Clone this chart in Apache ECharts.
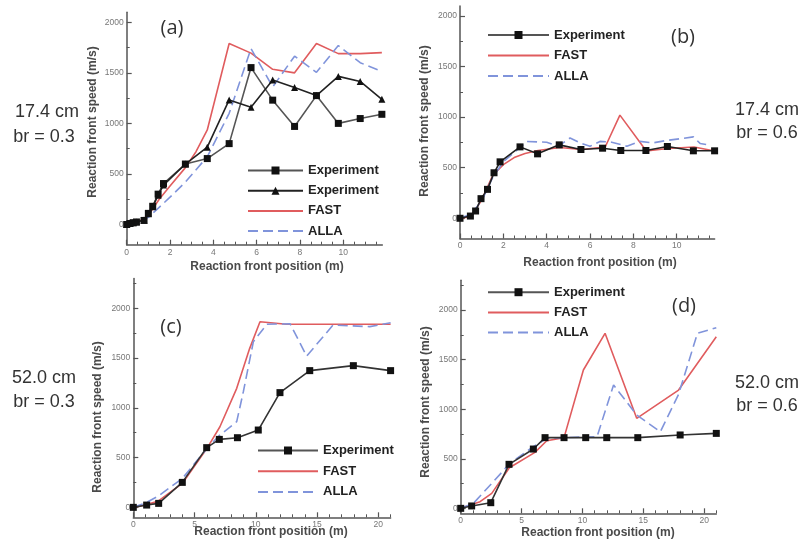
<!DOCTYPE html>
<html>
<head>
<meta charset="utf-8">
<script src="https://cdn.jsdelivr.net/npm/echarts@6/dist/echarts.min.js"></script>
<style>
  html, body { margin: 0; padding: 0; background: #fff; }
  #chart { width: 809px; height: 542px; }
</style>
</head>
<body>
<div id="chart"></div>
<script>
// Reaction front speed (m/s) against reaction front position (m)
// Each point: [position, speed]

// (a) 17.4 cm, br = 0.3
const expA_square = [[0,0],[0.15,10],[0.3,18],[0.45,25],[0.8,40],[1.0,110],[1.2,180],[1.45,300],[1.7,405],[2.71,598],[3.72,652],[4.73,800],[5.74,1552],[6.74,1230],[7.75,970],[8.76,1275],[9.77,1000],[10.78,1048],[11.78,1090]];
const expA_triangle = [[0,0],[0.15,10],[0.3,18],[0.45,25],[0.8,45],[1.0,105],[1.2,175],[1.45,290],[1.7,390],[2.71,598],[3.72,765],[4.73,1232],[5.74,1160],[6.74,1430],[7.75,1355],[8.76,1275],[9.77,1465],[10.78,1415],[11.78,1238]];
const fastA = [[0,0],[0.5,20],[1.0,90],[1.5,250],[2.0,380],[2.7,560],[3.2,720],[3.72,935],[4.73,1790],[5.74,1695],[6.74,1535],[7.75,1500],[8.76,1790],[9.77,1690],[10.78,1690],[11.78,1700]];
const allaA = [[0,0],[0.5,15],[1.0,70],[1.5,170],[2.0,270],[2.71,420],[3.72,670],[4.73,1100],[5.74,1740],[6.74,1360],[7.75,1665],[8.76,1505],[9.77,1770],[10.78,1600],[11.78,1515]];

// (b) 17.4 cm, br = 0.6
const expB = [[0,0],[0.48,22],[0.72,72],[0.97,194],[1.27,286],[1.57,450],[1.85,558],[2.77,706],[3.58,637],[4.58,726],[5.58,680],[6.58,693],[7.42,670],[8.58,670],[9.57,710],[10.77,667],[11.75,667]];
const fastB = [[0,0],[0.5,15],[1.0,180],[1.5,420],[2.0,530],[2.5,600],[3.0,640],[3.6,670],[4.6,700],[5.6,680],[6.7,705],[7.38,1020],[8.6,665],[9.6,690],[10.8,705],[11.75,665]];
const allaB = [[0,0],[0.5,40],[1.0,170],[1.5,400],[2.0,560],[2.77,700],[3.08,760],[4.0,752],[4.54,712],[5.08,794],[5.54,745],[6.0,712],[6.46,760],[7.0,752],[7.7,712],[8.3,760],[8.9,745],[9.54,770],[10.3,790],[10.77,805],[11.08,740],[11.4,728]];

// (c) 52.0 cm, br = 0.3
const expC = [[0,0],[1.09,23],[2.07,40],[4.0,251],[5.99,600],[7.02,683],[8.5,700],[10.2,777],[11.97,1153],[14.4,1374],[17.96,1424],[21,1374]];
const fastC = [[0,0],[1,25],[2,60],[4,240],[6,590],[7.07,810],[8.44,1196],[9.5,1598],[10.34,1866],[12.5,1840],[21,1840]];
const allaC = [[0,0],[1,45],[2,110],[4,290],[6,590],[7.0,720],[8.44,861],[8.98,1162],[9.8,1665],[10.9,1840],[12.8,1845],[14.15,1520],[16.3,1832],[19.3,1816],[21,1855]];

// (d) 52.0 cm, br = 0.6
const expD = [[0,0],[0.9,24],[2.47,57],[3.97,444],[5.97,598],[6.93,713],[8.49,713],[10.27,713],[12,713],[14.55,713],[18.03,740],[21,756]];
const fastD = [[0,0],[1.59,67],[2.55,151],[4,410],[6.1,565],[7.07,682],[8.49,713],[10.08,1395],[11.86,1765],[14.46,908],[17.9,1193],[21,1731]];
const allaD = [[0,0],[1.04,50],[2.55,252],[4.05,454],[5.97,622],[7.07,706],[8.4,713],[11.2,723],[12.56,1244],[14.46,941],[16.4,773],[17.9,1150],[19.45,1765],[21,1822]];

// Tick values
const speedTicks = [0, 500, 1000, 1500, 2000];
const speedMinor = [-250, 250, 750, 1250, 1750, 2250];
const shortPosTicks = [0, 2, 4, 6, 8, 10];
const shortPosMinor = [0.5,1,1.5,2.5,3,3.5,4.5,5,5.5,6.5,7,7.5,8.5,9,9.5,10.5,11,11.5];
const longPosTicks = [0, 5, 10, 15, 20];
const longPosMinor = [1,2,3,4,6,7,8,9,11,12,13,14,16,17,18,19,21];

const FONT = '"Liberation Sans", Arial, sans-serif';
const AXIS_COLOR = '#555';
const RED = '#e05c5e';
const BLUE = '#8094db';

// panel layout: plot boxes in pixels and axis ranges
const panels = [
  { left: 126.7, top: 12.2, width: 255.6, height: 232.5, xMax: 11.8, yMin: -200, yMax: 2100, xt: shortPosTicks, xm: shortPosMinor },
  { left: 460, top: 5.9, width: 254.6, height: 232.6, xMax: 11.75, yMin: -200, yMax: 2100, xt: shortPosTicks, xm: shortPosMinor },
  { left: 133.3, top: 278.5, width: 257.3, height: 238.8, xMax: 21, yMin: -100, yMax: 2300, xt: longPosTicks, xm: longPosMinor },
  { left: 460.7, top: 280.3, width: 255.6, height: 233, xMax: 21, yMin: -50, yMax: 2300, xt: longPosTicks, xm: longPosMinor }
];

const grid = panels.map(p => ({ left: p.left, top: p.top, width: p.width, height: p.height, containLabel: false }));

const plain = v => String(v);
const tickLabel = { fontSize: 8.5, color: '#777', margin: 3, fontFamily: FONT, formatter: plain };

const xAxis = [];
const yAxis = [];
panels.forEach((p, i) => {
  xAxis.push({
    gridIndex: i, type: 'value', min: 0, max: p.xMax, position: 'bottom', offset: 0,
    axisLine: { onZero: false, lineStyle: { color: AXIS_COLOR, width: 1.5 } },
    axisTick: { inside: true, length: 5, customValues: p.xt, lineStyle: { color: AXIS_COLOR, width: 1.2 } },
    axisLabel: Object.assign({ customValues: p.xt }, tickLabel),
    splitLine: { show: false }
  });
  yAxis.push({
    gridIndex: i, type: 'value', min: p.yMin, max: p.yMax, position: 'left', offset: 0,
    axisLine: { onZero: false, lineStyle: { color: AXIS_COLOR, width: 1.5 } },
    axisTick: { inside: true, length: 5, customValues: speedTicks, lineStyle: { color: AXIS_COLOR, width: 1.2 } },
    axisLabel: Object.assign({ customValues: speedTicks }, tickLabel),
    splitLine: { show: false }
  });
});
// minor ticks on overlaid axes sharing the same edges
panels.forEach((p, i) => {
  xAxis.push({
    gridIndex: i, type: 'value', min: 0, max: p.xMax, position: 'bottom', offset: 0,
    axisLine: { show: false, onZero: false },
    axisTick: { inside: true, length: 3, customValues: p.xm, lineStyle: { color: AXIS_COLOR, width: 1 } },
    axisLabel: { show: false },
    splitLine: { show: false }
  });
  yAxis.push({
    gridIndex: i, type: 'value', min: p.yMin, max: p.yMax, position: 'left', offset: 0,
    axisLine: { show: false, onZero: false },
    axisTick: { inside: true, length: 3, customValues: speedMinor.filter(v => v > p.yMin && v < p.yMax), lineStyle: { color: AXIS_COLOR, width: 1 } },
    axisLabel: { show: false },
    splitLine: { show: false }
  });
});

function expSeries(name, data, gi, symbol, size, lineColor) {
  return {
    name, type: 'line', data, xAxisIndex: gi, yAxisIndex: gi,
    symbol, symbolSize: size,
    lineStyle: { color: lineColor, width: 1.6 },
    itemStyle: { color: '#111' },
    z: 3, animation: false
  };
}
function modelSeries(name, data, gi, color, dashed) {
  return {
    name, type: 'line', data, xAxisIndex: gi, yAxisIndex: gi,
    symbol: 'none',
    lineStyle: { color, width: 1.6, type: dashed ? [10, 5] : 'solid' },
    itemStyle: { color },
    z: 2, animation: false
  };
}

const series = [
  expSeries('Experiment', expA_square, 0, 'rect', 7, '#555'),
  expSeries('Experiment ', expA_triangle, 0, 'triangle', 7, '#222'),
  modelSeries('FAST', fastA, 0, RED, false),
  modelSeries('ALLA', allaA, 0, BLUE, true),

  expSeries('Experiment', expB, 1, 'rect', 7, '#222'),
  modelSeries('FAST', fastB, 1, RED, false),
  modelSeries('ALLA', allaB, 1, BLUE, true),

  expSeries('Experiment', expC, 2, 'rect', 7, '#333'),
  modelSeries('FAST', fastC, 2, RED, false),
  modelSeries('ALLA', allaC, 2, BLUE, true),

  expSeries('Experiment', expD, 3, 'rect', 7, '#333'),
  modelSeries('FAST', fastD, 3, RED, false),
  modelSeries('ALLA', allaD, 3, BLUE, true)
];

const lineOnly = name => ({ name, itemStyle: { opacity: 0 } });
function legendAt(left, top, width, gap, textGap, names) {
  return {
    left, top, orient: 'vertical', padding: 0,
    itemWidth: width, itemHeight: 10, itemGap: gap, itemTextGap: textGap,
    selectedMode: false,
    textStyle: { fontSize: 13, fontWeight: 'bold', color: '#222', fontFamily: FONT },
    data: names.map(n => (n === 'FAST' || n === 'ALLA') ? lineOnly(n) : n)
  };
}
const legend = [
  legendAt(247, 164, 55, 7.2, 12, ['Experiment', 'Experiment ', 'FAST', 'ALLA']),
  legendAt(487, 28.5, 61, 7.5, 8, ['Experiment', 'FAST', 'ALLA']),
  legendAt(257, 444, 60, 7.7, 9, ['Experiment', 'FAST', 'ALLA']),
  legendAt(487, 285.7, 61, 7.2, 8, ['Experiment', 'FAST', 'ALLA'])
];

function txt(x, y, text, size, opts) {
  return Object.assign({
    type: 'text', x, y,
    style: Object.assign({
      text, fontSize: size, fontFamily: FONT, fill: '#333',
      align: 'center', verticalAlign: 'middle'
    }, (opts && opts.style) || {})
  }, (opts && opts.el) || {});
}
const axisNameStyle = { style: { fontWeight: 'bold', fill: '#4a4a4a' } };
function yName(x, y) {
  return txt(x, y, 'Reaction front speed (m/s)', 12, { style: { fontWeight: 'bold', fill: '#4a4a4a' }, el: { rotation: Math.PI / 2 } });
}
const letterStyle = { style: { fontFamily: '"Open Sans", sans-serif', fill: '#333' } };

const graphic = [
  // panel letters
  txt(172, 28, '(a)', 20, letterStyle),
  txt(683, 37, '(b)', 20, letterStyle),
  txt(171, 327, '(c)', 20, letterStyle),
  txt(684, 306, '(d)', 20, letterStyle),
  // case descriptions
  txt(47, 112, '17.4 cm', 18),
  txt(44, 137, 'br = 0.3', 18),
  txt(767, 110, '17.4 cm', 18),
  txt(767, 133, 'br = 0.6', 18),
  txt(44, 378, '52.0 cm', 18),
  txt(44, 402, 'br = 0.3', 18),
  txt(767, 383, '52.0 cm', 18),
  txt(767, 406, 'br = 0.6', 18),
  // axis titles
  txt(267, 267, 'Reaction front position (m)', 12, axisNameStyle),
  txt(600, 263, 'Reaction front position (m)', 12, axisNameStyle),
  txt(271, 532, 'Reaction front position (m)', 12, axisNameStyle),
  txt(598, 533, 'Reaction front position (m)', 12, axisNameStyle),
  yName(93, 122),
  yName(425, 121),
  yName(98, 417),
  yName(426, 402)
];

const chart = echarts.init(document.getElementById('chart'), null, { renderer: 'canvas' });
chart.setOption({
  backgroundColor: '#fff',
  animation: false,
  grid, xAxis, yAxis, series, legend, graphic
});
</script>
</body>
</html>
